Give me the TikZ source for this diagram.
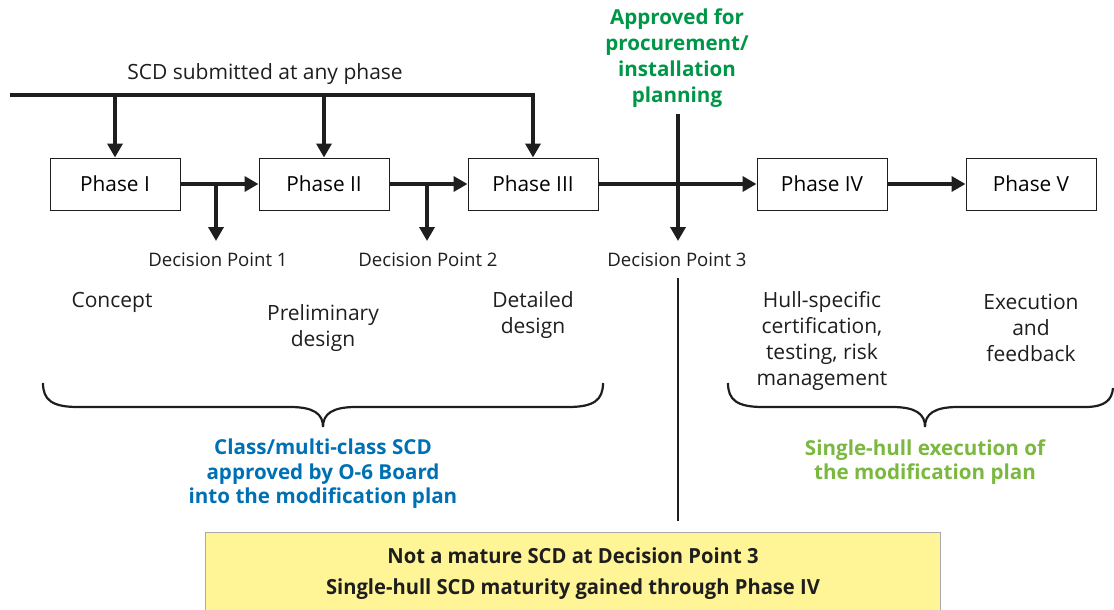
\documentclass[tikz,border=0pt]{standalone}
\usepackage{fontspec}
\setmainfont{Open Sans}
\newfontfamily\condfont[FakeStretch=0.97]{Open Sans}
\usetikzlibrary{arrows.meta}
\definecolor{appgreen}{RGB}{0,150,72}
\definecolor{boardblue}{RGB}{0,112,180}
\definecolor{hullgreen}{RGB}{122,184,64}
\definecolor{notefill}{RGB}{255,245,150}
\definecolor{noteedge}{RGB}{170,170,170}
\definecolor{ink}{RGB}{30,30,30}
\begin{document}
\begin{tikzpicture}[x=1pt,y=-1pt,
  phasebox/.style={draw=ink, line width=1pt, minimum width=130pt, minimum height=52pt, inner sep=0pt, font=\fontsize{20.8}{24}\selectfont},
  flow/.style={draw=ink, line width=3.5pt, -{Triangle[length=14pt,width=15pt]}},
  thickline/.style={draw=ink, line width=3.5pt},
  thinline/.style={draw=ink, line width=1.2pt},
  bracestyle/.style={draw=ink, line width=2.2pt},
  dplabel/.style={inner sep=0pt, font=\fontsize{18.6}{21}\selectfont, text=ink},
  stage/.style={align=center, inner sep=0pt, font=\fontsize{21}{26}\selectfont, text=ink},
  headlabel/.style={align=center, inner sep=0pt, font=\fontsize{20.6}{26}\selectfont\bfseries},
  sublabel/.style={align=center, inner sep=0pt, font=\fontsize{20.6}{24.5}\selectfont\bfseries},
  notebox/.style={draw=noteedge, fill=notefill, line width=1pt, anchor=north west, minimum width=735pt, minimum height=82pt, align=center, font=\condfont\fontsize{20.8}{31}\selectfont\bfseries, text=ink}
]
\useasboundingbox (0,0) rectangle (1114,610);

% phase boxes
\node[phasebox] (p1) at (115,184) {Phase I};
\node[phasebox] (p2) at (324,184) {Phase II};
\node[phasebox] (p3) at (533,184) {Phase III};
\node[phasebox] (p4) at (822,184) {Phase IV};
\node[phasebox] (p5) at (1031,184) {Phase V};

% submission feed
\node[stage] (scd) at (265,74) {SCD submitted at any phase};
\coordinate (feed) at (10,95);
\coordinate (c1) at (115,95);
\coordinate (c2) at (324,95);
\draw[flow] (feed) -| (p3.north);
\draw[flow] (c1) -- (p1.north);
\draw[flow] (c2) -- (p2.north);

% main flow
\draw[flow] (p1.east) -- (p2.west);
\draw[flow] (p2.east) -- (p3.west);
\draw[flow] (p3.east) -- (p4.west);
\draw[flow] (p4.east) -- (p5.west);

% decision points
\coordinate (j1) at (216,184);
\coordinate (e1) at (216,241);
\coordinate (j2) at (427,184);
\coordinate (e2) at (427,241);
\coordinate (g3) at (678,114);
\coordinate (e3) at (678,241);
\draw[flow] (j1) -- (e1);
\draw[flow] (j2) -- (e2);
\draw[flow] (g3) -- (e3);
\node[dplabel] (dp1) at (218,260) {Decision Point 1};
\node[dplabel] (dp2) at (428,260) {Decision Point 2};
\node[dplabel] (dp3) at (677,260) {Decision Point 3};

% approval label
\node[headlabel, text=appgreen] (appr) at (677,58) {Approved for\\procurement/\\installation\\planning};

% divider
\coordinate (v1) at (678,278);
\coordinate (v2) at (678,521);
\draw[thinline] (v1) -- (v2);

% stage descriptions
\node[stage] (s1) at (112,302) {Concept};
\node[stage] (s2) at (323,328) {Preliminary\\design};
\node[stage] (s3) at (533,315) {Detailed\\design};
\node[stage] (s4) at (822,341) {Hull-specific\\certification,\\testing, risk\\management};
\node[stage] (s5) at (1031,328) {Execution\\and\\feedback};

% braces
\draw[bracestyle] (43,383) .. controls (43,400) and (52,407) .. (78,407) -- (290,407)
  .. controls (314,407) and (323,414) .. (323,427)
  .. controls (323,414) and (332,407) .. (356,407) -- (568,407)
  .. controls (594,407) and (603,400) .. (603,383);
\draw[bracestyle] (728,383) .. controls (728,400) and (737,407) .. (763,407) -- (892,407)
  .. controls (916,407) and (925,414) .. (925,427)
  .. controls (925,414) and (934,407) .. (958,407) -- (1085,407)
  .. controls (1105,407) and (1112,400) .. (1113,388);

\node[sublabel, text=boardblue] (blue) at (323,474) {Class/multi-class SCD\\approved by O-6 Board\\into the modification plan};
\node[sublabel, text=hullgreen] (hull) at (925,462) {Single-hull execution of\\the modification plan};

% note
\node[notebox] (note) at (205,532) {Not a mature SCD at Decision Point 3\\Single-hull SCD maturity gained through Phase IV};
\end{tikzpicture}
\end{document}
